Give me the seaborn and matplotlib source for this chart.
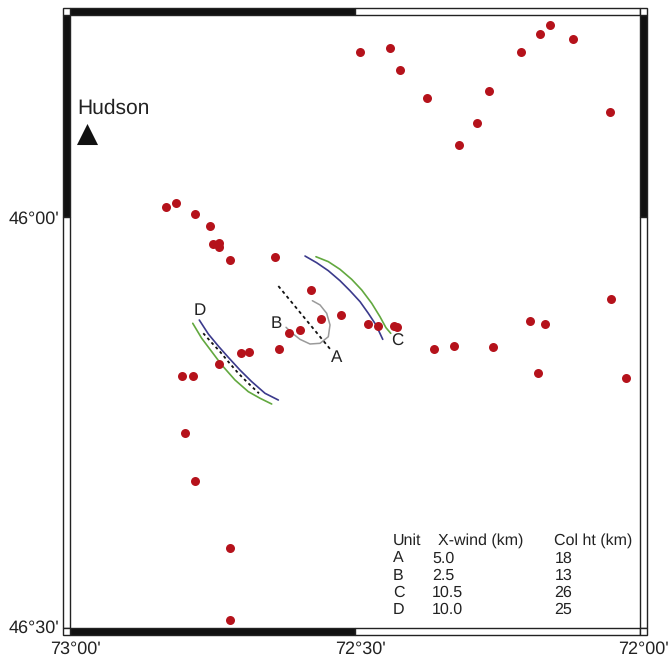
# recreate map of vents and fall units
import matplotlib
matplotlib.use("Agg")
from matplotlib import pyplot as plt
from matplotlib.patches import Rectangle
from matplotlib.transforms import ScaledTranslation
import pandas as pd
import seaborn as sns

# positions are arcminutes west of 72 deg and south of 46 deg
vent_x = [29.47, 26.32, 25.26, 22.42, 15.89, 17.16, 19.05, 12.53, 10.53, 9.47, 7.05, 3.16,
          49.89, 48.84, 46.84, 45.26, 44.98, 44.32, 44.35, 43.16, 38.45, 34.60, 31.44, 33.61,
          35.79, 36.95, 37.97, 28.66, 27.55, 25.86, 25.55, 42.03, 41.19, 44.35, 48.18, 47.02,
          21.68, 19.58, 15.47, 11.58, 10.00, 3.05, 10.74, 1.47, 47.89, 46.84, 43.16, 43.16]
vent_y = [-12.04, -12.34, -10.73, -8.69, -9.20, -6.86, -5.26, -12.04, -13.36, -14.01, -12.99, -7.66,
          -0.73, -1.02, -0.22, 0.66, 1.97, 1.90, 2.17, 3.12, 2.92, 5.31, 7.18, 7.42,
          8.23, 8.49, 9.66, 7.79, 7.98, 7.93, 8.05, 9.93, 9.85, 10.75, 11.63, 11.61,
          9.64, 9.42, 9.49, 7.59, 7.81, 5.99, 11.39, 11.75, 15.77, 19.27, 24.16, 29.42]

hudson_x = [58.2]
hudson_y = [-6.06]

dash_a_x = [38.07, 32.45]
dash_a_y = [5.04, 9.78]
dash_d_x = [45.97, 45.08, 44.21, 43.34, 42.28, 41.23, 40.11]
dash_d_y = [8.49, 9.18, 9.83, 10.56, 11.41, 12.14, 12.87]
gray_x = [34.49, 33.68, 32.98, 32.63, 32.81, 33.68, 34.74, 35.79, 36.66, 37.26]
gray_y = [6.11, 6.42, 7.03, 7.88, 8.74, 9.22, 9.27, 8.93, 8.45, 8.05]
blue_c_x = [35.26, 34.03, 32.81, 31.58, 30.53, 29.47, 28.60, 27.79, 27.08]
blue_c_y = [2.85, 3.34, 3.92, 4.65, 5.38, 6.18, 7.03, 7.88, 8.93]
green_c_x = [34.11, 32.81, 31.58, 30.35, 29.29, 28.24, 27.37, 26.74, 26.24]
green_c_y = [2.90, 3.26, 3.82, 4.55, 5.33, 6.30, 7.28, 8.08, 8.49]
blue_d_x = [46.39, 45.44, 44.39, 43.34, 42.11, 40.87, 39.47, 38.07]
blue_d_y = [7.52, 8.54, 9.42, 10.24, 11.17, 12.02, 12.87, 13.36]
green_d_x = [47.08, 46.14, 45.08, 44.03, 42.63, 41.23, 40.00, 38.77]
green_d_y = [7.76, 8.85, 9.83, 10.80, 11.90, 12.75, 13.23, 13.65]

x_ticks = [60, 30, 0]
x_tick_labels = ["73°00'", "72°30'", "72°00'"]
y_ticks = [0, 30]
y_tick_labels = ["46°00'", "46°30'"]

units = ["A", "B", "C", "D"]
xwind = ["5.0", "2.5", "10.5", "10.0"]
col_ht = ["18", "13", "26", "25"]

sns.set_style("white")
plt.rcParams["font.family"] = ["Liberation Sans", "DejaVu Sans"]
plt.rcParams["text.hinting"] = "none"
plt.rcParams["text.hinting_factor"] = 1

W, H = 669, 663
fig = plt.figure(figsize=(W / 100, H / 100), dpi=100)
ax = fig.add_axes([70 / W, (H - 628) / H, 570 / W, 613.5 / H])
x0, x1, y0, y1 = 60, 0, 30, -14.78
ax.set_xlim(x0, x1)
ax.set_ylim(y0, y1)
for s in ax.spines.values():
    s.set_visible(False)


def draw_line(x, y, color, lw, ls="-"):
    sns.lineplot(x=x, y=y, sort=False, estimator=None, color=color, linewidth=lw, linestyle=ls, ax=ax)


draw_line(gray_x, gray_y, "#9a9a9a", 1.1)
draw_line(blue_c_x, blue_c_y, "#3b3a8c", 1.2)
draw_line(green_c_x, green_c_y, "#62a83f", 1.2)
draw_line(blue_d_x, blue_d_y, "#3b3a8c", 1.2)
draw_line(green_d_x, green_d_y, "#62a83f", 1.2)
draw_line(dash_a_x, dash_a_y, "#111111", 1.3, (0, (1.8, 1.8)))
draw_line(dash_d_x, dash_d_y, "#111111", 1.3, (0, (1.6, 1.8)))

vents = pd.DataFrame({"x": vent_x, "y": vent_y})
sns.scatterplot(data=vents, x="x", y="y", color="#b5121b", s=42, linewidth=0, ax=ax, zorder=3)
sns.scatterplot(x=hudson_x, y=hudson_y, marker="^", color="#111111", s=230, linewidth=0, ax=ax, zorder=3)

# frame strips, alternating black and white
sx = 0.7
sy = 0.5
frame = dict(edgecolor="#222222", linewidth=1, clip_on=False, zorder=4)
ax.add_patch(Rectangle((x0, y1 - sy), -30, sy, facecolor="#111111", **frame))
ax.add_patch(Rectangle((30, y1 - sy), -30, sy, facecolor="white", **frame))
ax.add_patch(Rectangle((x0, y0), -30, sy, facecolor="#111111", **frame))
ax.add_patch(Rectangle((30, y0), -30, sy, facecolor="white", **frame))
for side in [x0 + sx, x1]:
    ax.add_patch(Rectangle((side, y1), -sx, 0 - y1, facecolor="#111111", **frame))
    ax.add_patch(Rectangle((side, 0), -sx, y0, facecolor="white", **frame))
    for corner in [y1 - sy, y0]:
        ax.add_patch(Rectangle((side, corner), -sx, sy, facecolor="white", **frame))

ax.set_xlabel("")
ax.set_ylabel("")
ax.set_xticks(x_ticks, x_tick_labels, fontsize=13.3, color="#222222")
ax.set_yticks(y_ticks, y_tick_labels, fontsize=13.3, color="#222222")
ax.tick_params(length=0, axis="x", pad=9)
ax.tick_params(length=0, axis="y", pad=7.5)
x_shift = [5, 5, 3]
for lab, dx in zip(ax.get_xticklabels(), x_shift):
    lab.set_transform(lab.get_transform() + ScaledTranslation(dx / 100, 0, fig.dpi_scale_trans))
y_shift = [0, 2]
for lab, dy in zip(ax.get_yticklabels(), y_shift):
    lab.set_transform(lab.get_transform() + ScaledTranslation(0, dy / 100, fig.dpi_scale_trans))

ax.text(59.2, -7.96, "Hudson", fontsize=15, color="#222222", ha="left", va="center")

# curve labels
ax.text(31.9, 10.3, "A", fontsize=12, color="#222222", ha="center", va="center")
ax.text(38.3, 7.75, "B", fontsize=12, color="#222222", ha="center", va="center")
ax.text(25.6, 9.05, "C", fontsize=12, color="#222222", ha="center", va="center")
ax.text(46.3, 6.8, "D", fontsize=12, color="#222222", ha="center", va="center")

# table of unit values
table_top = 23.65
row_step = 1.26
fs = 11.3
ax.text(26.0, table_top, "Unit", fontsize=fs, color="#222222", va="center")
ax.text(21.3, table_top, "X-wind (km)", fontsize=fs, color="#222222", va="center")
ax.text(9.0, table_top, "Col ht (km)", fontsize=fs, color="#222222", va="center")
for i, (u, xw, ch) in enumerate(zip(units, xwind, col_ht)):
    row = table_top + (i + 1) * row_step
    ax.text(26.0, row, u, fontsize=fs, color="#222222", va="center")
    ax.text(21.9, row, xw, fontsize=fs, color="#222222", va="center")
    ax.text(9.0, row, ch, fontsize=fs, color="#222222", va="center")

fig.savefig("out.png", dpi=100)
